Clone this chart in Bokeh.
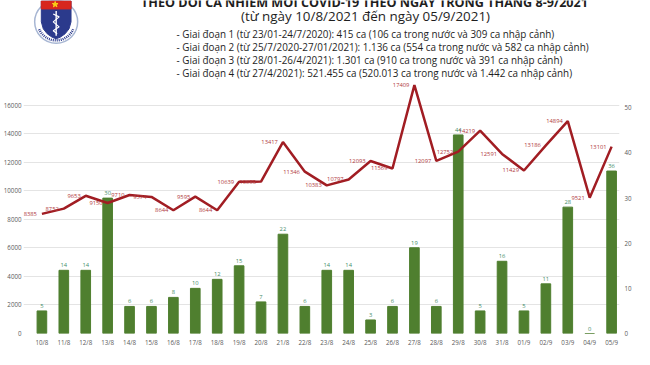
from bokeh.plotting import figure
from bokeh.models import (Range1d, LinearAxis, FixedTicker, ColumnDataSource, Label,
                          LabelSet)
from bokeh.core.properties import value
from bokeh.embed import file_html
from bokeh.resources import INLINE

# ---------------- data ----------------
dates = ["10/8", "11/8", "12/8", "13/8", "14/8", "15/8", "16/8", "17/8", "18/8",
         "19/8", "20/8", "21/8", "22/8", "23/8", "24/8", "25/8", "26/8", "27/8",
         "28/8", "29/8", "30/8", "31/8", "01/9", "02/9", "03/9", "04/9", "05/9"]
daily_cases = [8385, 8752, 9653, 9150, 9710, 9574, 8644, 9595, 8644,
               10639, 10650, 13417, 11346, 10383, 10797, 12093, 11569, 17409,
               12097, 12752, 14219, 12591, 11429, 13186, 14894, 9521, 13101]
bar_values = [5, 14, 14, 30, 6, 6, 8, 10, 12,
              15, 7, 22, 6, 14, 14, 3, 6, 19,
              6, 44, 5, 16, 5, 11, 28, 0, 36]
left_ticks = [0, 2000, 4000, 6000, 8000, 10000, 12000, 14000, 16000]
right_ticks = [0, 10, 20, 30, 40, 50]

title_text = "THEO DÕI CA NHIỄM MỚI COVID-19 THEO NGÀY TRONG THÁNG 8-9/2021"
subtitle_text = "(từ ngày 10/8/2021 đến ngày 05/9/2021)"
legend_lines = [
    "- Giai đoạn 1 (từ 23/01-24/7/2020): 415 ca (106 ca trong nước và 309 ca nhập cảnh)",
    "- Giai đoạn 2 (từ 25/7/2020-27/01/2021): 1.136 ca (554 ca trong nước và 582 ca nhập cảnh)",
    "- Giai đoạn 3 (từ 28/01-26/4/2021): 1.301 ca (910 ca trong nước và 391 ca nhập cảnh)",
    "- Giai đoạn 4 (từ 27/4/2021): 521.455 ca (520.013 ca trong nước và 1.442 ca nhập cảnh)",
]

# ---------------- geometry ----------------
W, H = 634, 349
B_LEFT, B_RIGHT, B_BOTTOM = 20, 12, 14
FRAME_W = W - B_LEFT - B_RIGHT
FRAME_H = H - B_BOTTOM
PAD_L, PAD_R = 0.84, 0.36          # in category widths
PX_PER_2000 = 28.7                 # left axis spacing
PX_PER_10 = 45.4                   # right axis spacing
LEFT_MAX = FRAME_H / PX_PER_2000 * 2000
RIGHT_MAX = FRAME_H / PX_PER_10 * 10
N = len(dates)
CAT_W = FRAME_W / (N - 1 + PAD_L + PAD_R)
UNITS_PER_PX = 2000 / PX_PER_2000

FONT = "Open Sans"
AXIS_COLOR = "#595959"
LINE_COLOR = "#A11D23"
LINE_LABEL_COLOR = "#B0393C"
BAR_COLOR = "#4F7F2F"
BAR_LABEL_COLOR = "#3F8C68"
TEXT_COLOR = "#1E1E1E"

xs = list(range(N))
src = ColumnDataSource(dict(
    x=xs,
    cases=daily_cases,
    bars=bar_values,
    cases_lbl=[str(v) for v in daily_cases],
    bars_lbl=[str(v) for v in bar_values],
))

p = figure(width=W, height=H, x_range=Range1d(-PAD_L, N - 1 + PAD_R),
           y_range=Range1d(0, LEFT_MAX),
           output_backend="svg", toolbar_location=None,
           min_border_left=B_LEFT, min_border_right=B_RIGHT,
           min_border_top=0, min_border_bottom=B_BOTTOM)
p.extra_y_ranges = {"right": Range1d(0, RIGHT_MAX)}
p.outline_line_color = None
p.background_fill_color = "white"
p.border_fill_color = "white"

# grid
p.xgrid.grid_line_color = None
p.ygrid.ticker = FixedTicker(ticks=left_ticks)
p.ygrid.grid_line_color = "#E4E4E4"
p.ygrid.grid_line_width = 1

# axes
def style_axis(ax, standoff):
    ax.axis_line_color = None
    ax.major_tick_line_color = None
    ax.minor_tick_line_color = None
    ax.major_tick_out = 0
    ax.major_tick_in = 0
    ax.major_label_text_font_size = "6.2px"
    ax.major_label_text_color = AXIS_COLOR
    ax.major_label_text_font = FONT
    ax.major_label_standoff = standoff

p.xaxis[0].ticker = FixedTicker(ticks=xs)
p.xaxis[0].major_label_overrides = {i: d for i, d in zip(xs, dates)}
p.yaxis[0].ticker = FixedTicker(ticks=left_ticks)
style_axis(p.yaxis[0], 2)
style_axis(p.xaxis[0], 4)
right_axis = LinearAxis(y_range_name="right", ticker=FixedTicker(ticks=right_ticks))
style_axis(right_axis, 5)
p.add_layout(right_axis, "right")

# bars
p.vbar(x="x", top="bars", width=0.44, y_range_name="right", source=src,
       fill_color=BAR_COLOR, line_color=BAR_COLOR)
p.add_layout(LabelSet(x="x", y="bars", text="bars_lbl", y_range_name="right", source=src,
                      y_offset=3, text_align="center", text_baseline="bottom",
                      text_font_size=value("5.8px"), text_color=value(BAR_LABEL_COLOR),
                      text_font=value(FONT)))

# line
p.line(x="x", y="cases", source=src, line_color=LINE_COLOR, line_width=2.5)
p.add_layout(LabelSet(x="x", y="cases", text="cases_lbl", source=src,
                      x_offset=-5, text_align="right", text_baseline="middle",
                      text_font_size=value("5.8px"), text_color=value(LINE_LABEL_COLOR),
                      text_font=value(FONT)))

# ---------------- header texts ----------------
def lab(text, cx, cy, size, align="left", baseline="middle", style="normal", color=TEXT_COLOR):
    p.add_layout(Label(x=cx - B_LEFT, y=FRAME_H - cy, x_units="screen", y_units="screen",
                       text=text, text_align=align, text_baseline=baseline,
                       text_font_size=size, text_font=FONT, text_font_style=style,
                       text_color=color))

lab(title_text, 361, 3.5, "12.6px", align="center", baseline="alphabetic", style="bold")
lab(subtitle_text, 362, 17.5, "13.4px", align="center")
for i, t in enumerate(legend_lines):
    lab(t, 173, 35 + i * 13.2, "9.9px")

# ---------------- emblem (decorative) ----------------
def dx(cx):
    return (cx - B_LEFT) / CAT_W - PAD_L

def dy(cy):
    return (FRAME_H - cy) * UNITS_PER_PX

EC_X, EC_Y = 53.0, 21.5
p.scatter(x=[dx(EC_X)], y=[dy(EC_Y)], marker="circle", size=43,
          fill_color="white", line_color="#A7B6D3", line_width=1.5)
shield = [(-15, -21), (15, -21), (15, 0), (13, 7), (9, 12), (4, 15.5), (0, 17),
          (-4, 15.5), (-9, 12), (-13, 7), (-15, 0)]
p.patch(x=[dx(EC_X + a) for a, b in shield], y=[dy(EC_Y + b) for a, b in shield],
        fill_color="#2B3A8C", line_color="#2B3A8C")
band = [(-15, -21), (15, -21), (15, -13), (-15, -13)]
p.patch(x=[dx(EC_X + a) for a, b in band], y=[dy(EC_Y + b) for a, b in band],
        fill_color="#D7261E", line_color="#D7261E")
p.scatter(x=[dx(EC_X - 1)], y=[dy(EC_Y - 17.5)], marker="star", size=6,
          fill_color="#F7D117", line_color="#F7D117")
p.line(x=[dx(EC_X), dx(EC_X)], y=[dy(EC_Y - 11), dy(EC_Y + 14)], line_color="white", line_width=1.4)
snake = [(-3, -8), (3, -5), (-3, 0), (3, 5), (-3, 9), (1, 12)]
p.line(x=[dx(EC_X + a) for a, b in snake], y=[dy(EC_Y + b) for a, b in snake],
       line_color="white", line_width=1.2)
p.arc(x=[dx(EC_X)], y=[dy(EC_Y)], radius=18.5, radius_units="screen",
      start_angle=3.55, end_angle=5.87, line_color="#2B3A8C", line_width=2.5, line_dash="1 1")

open("out.html", "w").write(file_html(p, INLINE))
